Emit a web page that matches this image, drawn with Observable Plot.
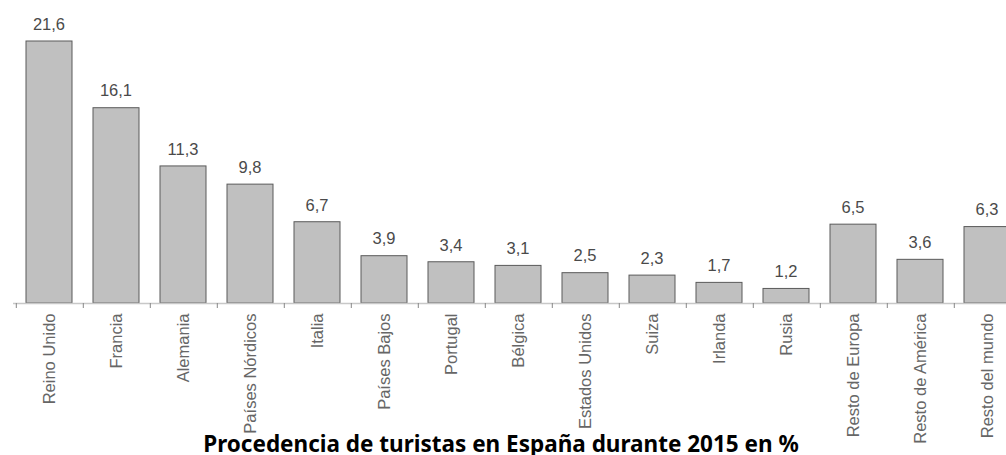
<!DOCTYPE html>
<html>
<head>
<meta charset="utf-8">
<script src="https://cdn.jsdelivr.net/npm/d3@7"></script>
<script src="https://cdn.jsdelivr.net/npm/@observablehq/plot@0.6"></script>
<style>
  html, body { margin: 0; padding: 0; background: #fff; }
  #wrap { position: relative; width: 1006px; height: 455px; overflow: hidden; }
  #title {
    position: absolute; left: -2px; top: 431px; width: 1006px; text-align: center;
    font-family: "Noto Sans", sans-serif; font-weight: bold; font-size: 22.5px; line-height: 26px; color: #000;
  }
</style>
</head>
<body>
<div id="wrap">
  <div id="chart"></div>
  <div id="title">Procedencia de turistas en España durante 2015 en %</div>
</div>
<script>
const categories = ["Reino Unido", "Francia", "Alemania", "Países Nórdicos", "Italia", "Países Bajos", "Portugal", "Bélgica", "Estados Unidos", "Suiza", "Irlanda", "Rusia", "Resto de Europa", "Resto de América", "Resto del mundo"];
const values = [21.6, 16.1, 11.3, 9.8, 6.7, 3.9, 3.4, 3.1, 2.5, 2.3, 1.7, 1.2, 6.5, 3.6, 6.3];

const data = categories.map((c, i) => ({category: c, value: values[i]}));
const fmt = v => d3.format(".1f")(v).replace(".", ",");

const W = 1006, H = 455, mL = 13, mR = -18, mT = 41, mB = 152;
const step = (W - mL - mR) / categories.length;

const chart = Plot.plot({
  width: W,
  height: H,
  marginLeft: mL,
  marginRight: mR,
  marginTop: mT,
  marginBottom: mB,
  style: {fontFamily: "'Liberation Sans', Arial, sans-serif", background: "#fff", overflow: "hidden"},
  x: {domain: categories, padding: 0, align: 0.5, axis: null, label: null},
  y: {domain: [0, 21.6], axis: null},
  marks: [
    Plot.barY(data, {x: "category", y: "value", fill: "#c0c0c0", stroke: "#5a5a5a", strokeWidth: 1, insetLeft: 10, insetRight: 11}),
    Plot.ruleY([0], {stroke: "#c8c8c8", strokeWidth: 1.5}),
    Plot.axisX(categories, {tickSize: 5, tickFormat: () => "", label: null, dx: -step / 2, stroke: "#888"}),
    Plot.axisX(categories, {tickSize: 0, tickPadding: 10, tickRotate: -90, label: null, fontSize: 16.5, fill: "#666", textAnchor: "end"}),
    Plot.text(data, {x: "category", y: "value", text: d => fmt(d.value), dy: -17, dx: -1, fill: "#4a4a4a", fontSize: 16.5})
  ]
});
document.getElementById("chart").appendChild(chart);
</script>
</body>
</html>
